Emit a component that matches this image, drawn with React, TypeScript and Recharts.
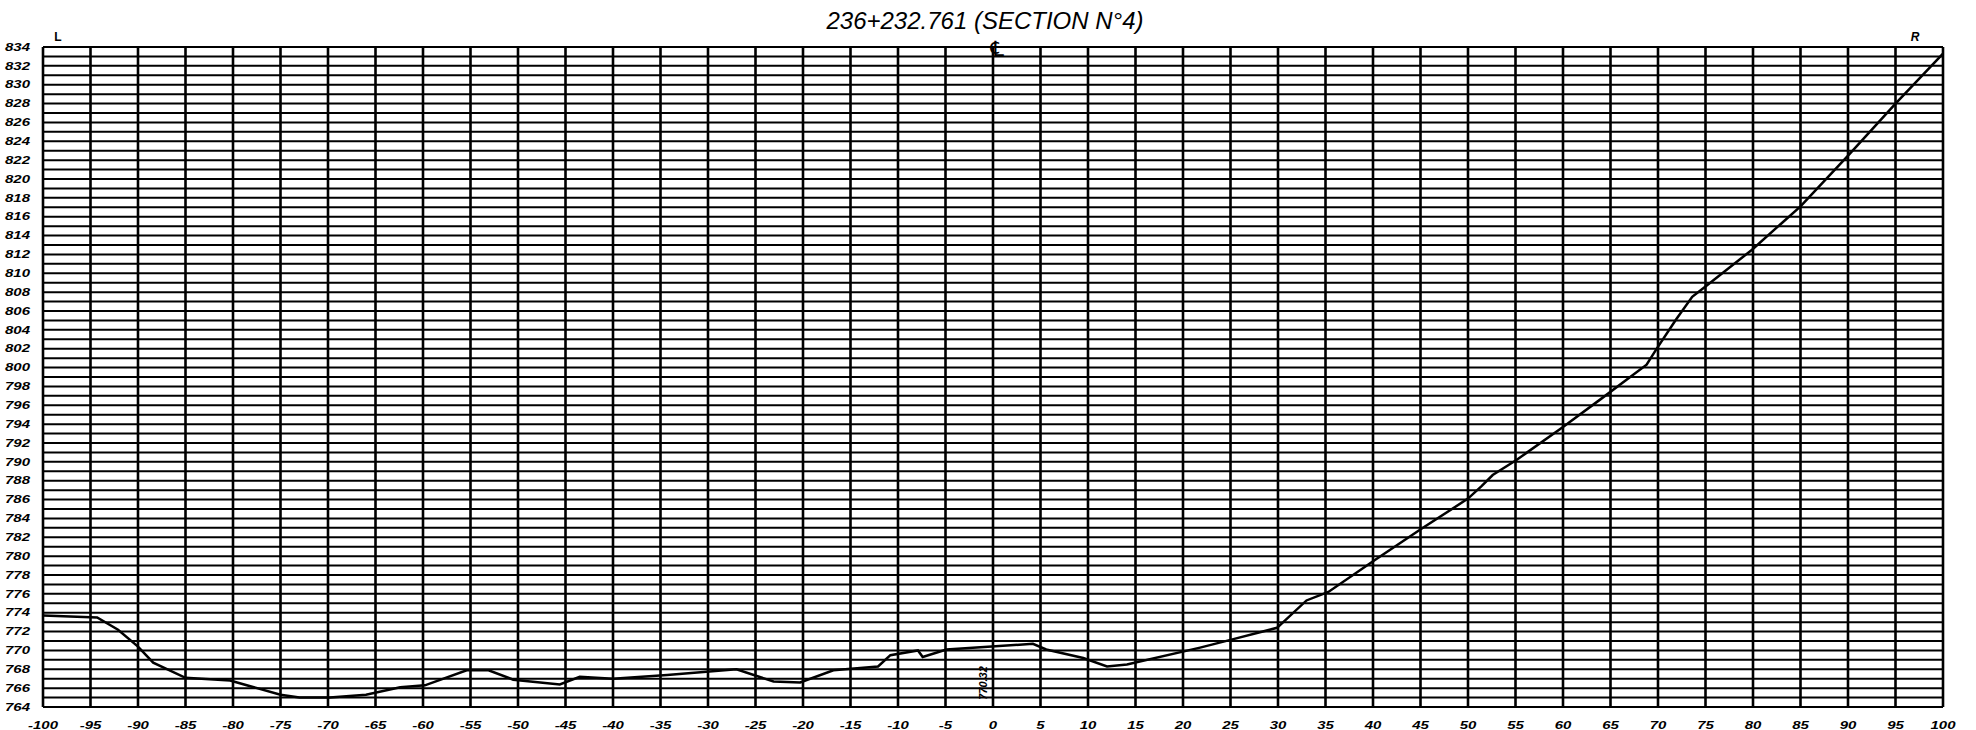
import React from 'react';
import { CartesianGrid, Line, LineChart, XAxis, YAxis } from 'recharts';

// offset (m) from centerline, L negative / R positive
const offsets = [
  -100, -94.3, -92.1, -90, -88.4, -85, -80.3, -75, -73, -69.8, -66, -62.4, -59.8, -55.4, -53.1, -50.5,
  -45.6, -43.5, -40, -34.3, -27, -23.1, -20.3, -16.8, -12.1, -10.8, -7.9, -7.4, -4.9, 4.2, 5.6, 9.5,
  12, 14.1, 21.8, 25.3, 29.9, 33, 35.3, 40.2, 45.1, 50, 51.4, 52.6, 55.1, 60, 63.9, 68.8, 69.8, 71.9,
  73.6, 75, 79.9, 85, 90.2, 95.1, 100,
];
// ground elevation (m)
const elevations = [
  773.7, 773.5, 772.2, 770.4, 768.7, 767.1, 766.8, 765.3, 765.0, 765.0, 765.3, 766.1, 766.3, 767.9, 767.9, 766.9,
  766.4, 767.2, 767.0, 767.4, 768.0, 766.7, 766.6, 767.9, 768.3, 769.5, 770.0, 769.3, 770.1, 770.7, 770.1, 769.2,
  768.3, 768.5, 770.3, 771.2, 772.4, 775.3, 776.2, 779.6, 782.9, 786.1, 787.4, 788.6, 790.2, 793.7, 796.6, 800.3, 801.9, 805.1,
  807.5, 808.6, 812.5, 817.1, 822.7, 828.1, 833.3,
];

const xTicks = [-100, -95, -90, -85, -80, -75, -70, -65, -60, -55, -50, -45, -40, -35, -30, -25, -20, -15, -10, -5,
  0, 5, 10, 15, 20, 25, 30, 35, 40, 45, 50, 55, 60, 65, 70, 75, 80, 85, 90, 95, 100];
const yTicks = [764, 766, 768, 770, 772, 774, 776, 778, 780, 782, 784, 786, 788, 790, 792, 794, 796, 798, 800,
  802, 804, 806, 808, 810, 812, 814, 816, 818, 820, 822, 824, 826, 828, 830, 832, 834];
const yGrid = Array.from({ length: 71 }, (_, i) => 764 + i);

const title = '236+232.761 (SECTION N°4)';
const clLevel = '770.32';

const data = offsets.map((x, i) => ({ x, z: elevations[i] }));

const font = '"Liberation Sans", Arial, sans-serif';

function Tick({ x, y, payload, anchor, dx = 0, dy = 0 }: any) {
  return (
    <g transform={`translate(${x + dx},${y + dy})`}>
      <text
        transform="scale(1.2,0.85)"
        textAnchor={anchor}
        dominantBaseline="central"
        fontFamily={font}
        fontStyle="italic"
        fontWeight="bold"
        fontSize={12.5}
        fill="#000"
      >
        {payload.value}
      </text>
    </g>
  );
}

export default function App() {
  return (
    <div style={{ position: 'absolute', left: 0, top: 0, width: 1976, height: 730, background: '#fff' }}>
      <LineChart width={1976} height={730} data={data} margin={{ top: 47, right: 0, left: 0, bottom: 0 }}>
        <CartesianGrid
          stroke="#000"
          strokeWidth={2}
          vertical={false}
          horizontalValues={yGrid}
          yAxisId="left"
        />
        <CartesianGrid
          stroke="#000"
          strokeWidth={2.6}
          horizontal={false}
          verticalValues={xTicks}
          yAxisId="left"
        />
        <XAxis
          dataKey="x"
          type="number"
          domain={[-100, 100]}
          ticks={xTicks}
          height={23}
          axisLine={false}
          tickLine={false}
          interval={0}
          tick={<Tick anchor="middle" dy={10} />}
        />
        <YAxis
          yAxisId="left"
          type="number"
          domain={[764, 834]}
          ticks={yTicks}
          width={43}
          axisLine={false}
          tickLine={false}
          interval={0}
          tick={<Tick anchor="end" dx={-5} />}
        />
        <YAxis
          yAxisId="right"
          orientation="right"
          type="number"
          domain={[764, 834]}
          ticks={yTicks}
          width={33}
          axisLine={false}
          tickLine={false}
          interval={0}
          tick={<Tick anchor="start" dx={4} dy={2} />}
        />
        <Line
          yAxisId="left"
          type="linear"
          dataKey="z"
          stroke="#000"
          strokeWidth={2.5}
          dot={false}
          isAnimationActive={false}
        />
      </LineChart>
      <svg
        width={1976}
        height={730}
        style={{ position: 'absolute', left: 0, top: 0, pointerEvents: 'none' }}
      >
        <text x={985} y={29} textAnchor="middle" fontFamily={font} fontStyle="italic" fontSize={24} fill="#000">
          {title}
        </text>
        <text x={58} y={41} textAnchor="middle" fontFamily={font} fontWeight="bold" fontSize={12} fill="#000">
          L
        </text>
        <text x={1915} y={41} textAnchor="middle" fontFamily={font} fontStyle="italic" fontWeight="bold" fontSize={12} fill="#000">
          R
        </text>
        <text x={997} y={56} textAnchor="middle" fontFamily='"DejaVu Sans", sans-serif' fontSize={21} fill="#000">
          ℄
        </text>
        <text
          x={0}
          y={0}
          transform="translate(987,683) rotate(-90)"
          textAnchor="middle"
          fontFamily={font}
          fontStyle="italic"
          fontWeight="bold"
          fontSize={11}
          fill="#000"
        >
          {clLevel}
        </text>
      </svg>
    </div>
  );
}
